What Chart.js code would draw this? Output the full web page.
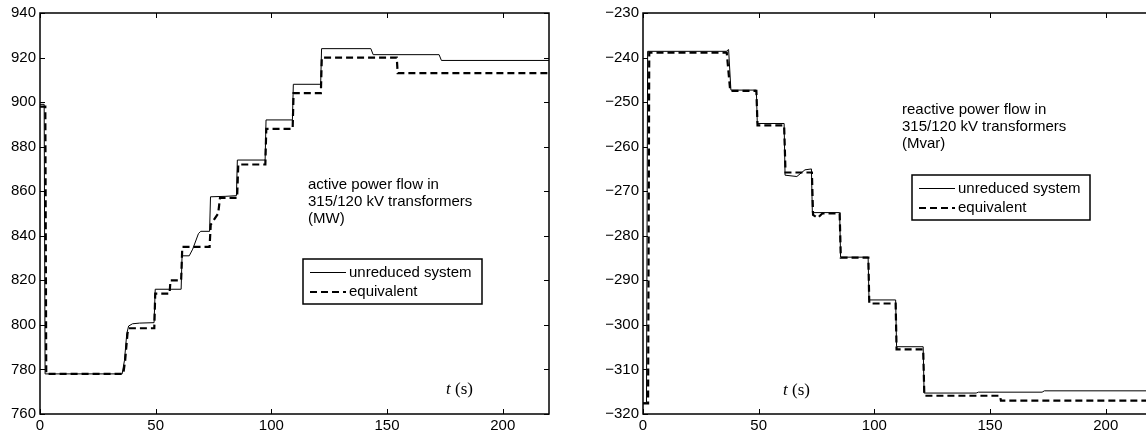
<!DOCTYPE html>
<html>
<head>
<meta charset="utf-8">
<script src="https://cdn.jsdelivr.net/npm/chart.js@4/dist/chart.umd.min.js"></script>
<style>
  html, body { margin: 0; padding: 0; background: #fff; overflow: hidden; width: 1146px; height: 435px; }
  canvas { position: absolute; top: 0; }
  #active { left: 0; }
  #reactive { left: 590px; }
</style>
</head>
<body>
<canvas id="active" width="560" height="435"></canvas>
<canvas id="reactive" width="575" height="435"></canvas>
<script>
// ── Data ──
const xTicks = [0, 50, 100, 150, 200];
const activeYTicks = [760, 780, 800, 820, 840, 860, 880, 900, 920, 940];
const reactiveYTicks = [-320, -310, -300, -290, -280, -270, -260, -250, -240, -230];
const seriesNames = ['unreduced system', 'equivalent'];

// active power (MW)
const activeTimeFull = [0, 1.8, 2.2, 35.5, 36.5, 37.5, 38.3, 40, 43, 49.3, 49.8, 61, 61.4, 64.5, 66, 68.5, 69.5, 73.3, 73.7, 80, 84.9, 85.3, 97.3, 97.7, 109.1, 109.5, 121.3, 121.7, 143, 144, 172.5, 173.5, 220];
const activeFull = [899, 899, 778, 778, 784, 796, 799.5, 800.5, 800.8, 801, 816, 816, 831, 831, 834, 841, 842, 842, 857.5, 857.7, 858, 874, 874, 892, 892, 908, 908, 924, 924, 921.3, 921.3, 918.7, 918.7];
const activeTimeEq = [0, 2.3, 2.7, 36, 36.8, 37.8, 38.3, 49.4, 49.8, 56, 56.4, 61, 61.5, 73.3, 73.8, 77, 77.8, 85.2, 85.7, 97.4, 97.8, 109.2, 109.6, 121.4, 121.8, 154.2, 154.6, 220];
const activeEq = [898, 898, 778, 778, 784, 796, 798.5, 798.5, 814, 814, 820, 820, 835, 835, 845, 850, 857, 857, 872, 872, 888, 888, 904, 904, 920, 920, 913, 913];

// reactive power (Mvar)
const reactiveTimeFull = [0, 1.5, 2, 36, 37, 38, 49, 49.4, 61, 61.4, 66.5, 70, 72.8, 73.2, 85, 85.4, 97.3, 97.7, 109.2, 109.6, 121.1, 121.5, 144, 145, 172.5, 173.5, 220];
const reactiveFull = [-317.5, -317.5, -238.6, -238.6, -238.2, -247.3, -247.3, -254.8, -254.8, -266.4, -266.7, -265.2, -265, -274.8, -274.8, -284.8, -284.8, -294.4, -294.4, -304.9, -304.9, -315.3, -315.3, -315.1, -315.1, -314.8, -314.8];
const reactiveTimeEq = [0, 2.2, 2.7, 36.2, 37.7, 49, 49.5, 61, 61.6, 73, 73.5, 75.5, 77.5, 85, 85.5, 97.4, 97.8, 109.2, 109.6, 121.1, 121.6, 154.3, 154.7, 220];
const reactiveEq = [-317.6, -317.6, -238.9, -238.9, -247.5, -247.5, -255.2, -255.2, -265.8, -265.8, -275.3, -276, -275, -275, -284.9, -284.9, -295.2, -295.2, -305.5, -305.5, -315.9, -315.9, -317, -317];

const activeNote = ['active power flow in', '315/120 kV transformers', '(MW)'];
const reactiveNote = ['reactive power flow in', '315/120 kV transformers', '(Mvar)'];

const FONT = "'Liberation Sans', Arial, Helvetica, sans-serif";
const toPoints = (ts, vs) => ts.map((t, i) => ({ x: t, y: vs[i] }));
const minus = v => (v < 0 ? '\u2212' + Math.abs(v) : String(v));

// Boxed axes with inward ticks, text notes and legend, drawn over the plot
const framePlugin = {
  id: 'frame',
  afterDraw(chart, args, opts) {
    const { ctx, chartArea: a, scales } = chart;
    ctx.save();
    ctx.strokeStyle = '#000';
    ctx.lineWidth = 1;
    ctx.beginPath();
    scales.x.ticks.forEach(t => {
      const px = Math.round(scales.x.getPixelForValue(t.value)) + 0.5;
      ctx.moveTo(px, a.bottom); ctx.lineTo(px, a.bottom - 5);
      ctx.moveTo(px, a.top); ctx.lineTo(px, a.top + 5);
    });
    scales.y.ticks.forEach(t => {
      const py = Math.round(scales.y.getPixelForValue(t.value)) + 0.5;
      ctx.moveTo(a.left, py); ctx.lineTo(a.left + 5, py);
      ctx.moveTo(a.right, py); ctx.lineTo(a.right - 5, py);
    });
    ctx.stroke();
    ctx.lineWidth = 1.5;
    ctx.strokeRect(a.left, a.top, a.right - a.left, a.bottom - a.top);

    // note text
    ctx.fillStyle = '#000';
    ctx.font = '15px ' + FONT;
    ctx.textBaseline = 'middle';
    ctx.textAlign = 'left';
    opts.note.forEach((line, i) => ctx.fillText(line, opts.noteX, opts.noteY + i * 16.8));

    // t (s)
    ctx.font = 'italic 17px "Liberation Serif", "Times New Roman", serif';
    ctx.fillText('t', opts.tX, opts.tY);
    ctx.font = '17px "Liberation Serif", "Times New Roman", serif';
    ctx.fillText('(s)', opts.tX + 9, opts.tY);

    // legend
    const L = opts.legend;
    ctx.fillStyle = '#fff';
    ctx.fillRect(L.x, L.y, L.w, L.h);
    ctx.lineWidth = 1.5;
    ctx.strokeRect(L.x, L.y, L.w, L.h);
    ctx.font = '15px ' + FONT;
    chart.data.datasets.forEach((ds, i) => {
      const y = L.y + 13.5 + i * 19.5;
      ctx.beginPath();
      ctx.setLineDash(ds.borderDash || []);
      ctx.lineWidth = ds.borderWidth;
      ctx.moveTo(L.x + 7, y); ctx.lineTo(L.x + 43, y);
      ctx.stroke();
      ctx.setLineDash([]);
      ctx.fillStyle = '#000';
      ctx.fillText(ds.label, L.x + 46, y);
    });
    ctx.restore();
  }
};

function makeChart(id, full, eq, yTicks, yWidth, padRight, frame) {
  return new Chart(document.getElementById(id), {
    type: 'line',
    data: {
      datasets: [
        { label: seriesNames[0], data: full, borderColor: '#000', borderWidth: 1, borderJoinStyle: 'miter' },
        { label: seriesNames[1], data: eq, borderColor: '#000', borderWidth: 2.2, borderDash: [7, 4], borderJoinStyle: 'miter' },
      ],
    },
    options: {
      responsive: false,
      animation: false,
      parsing: false,
      elements: { point: { radius: 0 }, line: { tension: 0 } },
      layout: { padding: { left: 0, top: 13, right: padRight, bottom: 0 } },
      scales: {
        x: {
          type: 'linear', min: 0, max: 220,
          grid: { display: false, drawTicks: false },
          border: { display: false },
          afterBuildTicks: s => { s.ticks = xTicks.map(v => ({ value: v })); },
          afterFit: s => { s.height = 21; },
          ticks: { color: '#000', font: { size: 15, family: FONT }, padding: 3, maxRotation: 0 },
        },
        y: {
          type: 'linear', min: yTicks[0], max: yTicks[yTicks.length - 1],
          grid: { display: false, drawTicks: false },
          border: { display: false },
          afterBuildTicks: s => { s.ticks = yTicks.map(v => ({ value: v })); },
          afterFit: s => { s.width = yWidth; },
          ticks: { color: '#000', font: { size: 15, family: FONT }, padding: 4, callback: minus },
        },
      },
      plugins: {
        legend: { display: false },
        tooltip: { enabled: false },
        frame,
      },
    },
    plugins: [framePlugin],
  });
}

makeChart('active',
  toPoints(activeTimeFull, activeFull), toPoints(activeTimeEq, activeEq),
  activeYTicks, 40, 11,
  { note: activeNote, noteX: 308, noteY: 185, tX: 446, tY: 390,
    legend: { x: 303, y: 259, w: 179, h: 45 } });

makeChart('reactive',
  toPoints(reactiveTimeFull, reactiveFull), toPoints(reactiveTimeEq, reactiveEq),
  reactiveYTicks, 53, 13,
  { note: reactiveNote, noteX: 312, noteY: 110, tX: 193, tY: 391,
    legend: { x: 322, y: 175, w: 178, h: 45 } });
</script>
</body>
</html>
